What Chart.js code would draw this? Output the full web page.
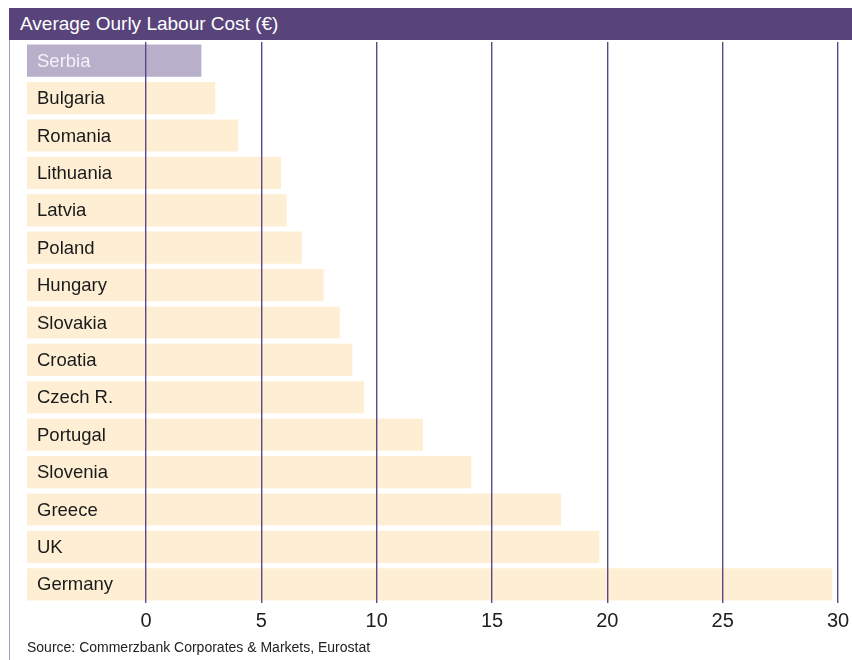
<!DOCTYPE html>
<html>
<head>
<meta charset="utf-8">
<script src="https://cdn.jsdelivr.net/npm/chart.js@4"></script>
<style>
  html, body { margin: 0; padding: 0; background: #fff; }
  body { width: 852px; height: 660px; position: relative; overflow: hidden; font-family: "Liberation Sans", Arial, sans-serif; }
  .header {
    position: absolute; left: 9px; top: 8px; width: 843px; height: 32px;
    background: #58447a; color: #fff; font-size: 19px; line-height: 32px;
    padding-left: 11px; box-sizing: border-box;
  }
  .leftLine { position: absolute; left: 9px; top: 40px; width: 1px; height: 620px; background: #a59cbb; }
  .source { position: absolute; left: 27px; top: 639px; font-size: 14px; color: #222; }
  #chartWrap { position: absolute; left: 0; top: 0; width: 852px; height: 660px; }
</style>
</head>
<body>
<div class="header">Average Ourly Labour Cost (€)</div>
<div class="leftLine"></div>
<div id="chartWrap"><canvas id="chart"></canvas></div>
<div class="source">Source: Commerzbank Corporates &amp; Markets, Eurostat</div>
<script>
const countries = ["Serbia", "Bulgaria", "Romania", "Lithuania", "Latvia", "Poland", "Hungary",
  "Slovakia", "Croatia", "Czech R.", "Portugal", "Slovenia", "Greece", "UK", "Germany"];
const labourCost = [2.4, 3.0, 4.0, 5.85, 6.1, 6.75, 7.7, 8.4, 8.95, 9.45, 12.0, 14.1, 18.0, 19.65, 29.75];
const xTicks = [0, 5, 10, 15, 20, 25, 30];
const axisMin = -5.16;
const axisMax = 30;

const barColors = countries.map((c) => (c === "Serbia" ? "#b8afca" : "#feefd4"));
const textColors = countries.map((c) => (c === "Serbia" ? "#f4f2f8" : "#1a1a1a"));

// country names sit inside the bars, near their left end
const barLabels = {
  id: "barLabels",
  afterDatasetsDraw(chart) {
    const ctx = chart.ctx;
    const meta = chart.getDatasetMeta(0);
    ctx.save();
    ctx.font = '18.5px "Liberation Sans", Arial, sans-serif';
    ctx.textBaseline = "middle";
    ctx.textAlign = "left";
    meta.data.forEach((bar, i) => {
      ctx.fillStyle = textColors[i];
      ctx.fillText(countries[i], chart.chartArea.left + 10, bar.y + 1);
    });
    ctx.restore();
  },
};

new Chart(document.getElementById("chart"), {
  type: "bar",
  data: {
    labels: countries,
    datasets: [{
      data: labourCost,
      base: axisMin,
      backgroundColor: barColors,
      borderWidth: 0,
      categoryPercentage: 0.86,
      barPercentage: 1,
    }],
  },
  options: {
    indexAxis: "y",
    responsive: true,
    maintainAspectRatio: false,
    animation: false,
    layout: { padding: { left: 27, right: 14, top: 42, bottom: 27 } },
    plugins: { legend: { display: false }, tooltip: { enabled: false } },
    scales: {
      x: {
        min: axisMin,
        max: axisMax,
        afterBuildTicks: (scale) => {
          scale.ticks = xTicks.map((v) => ({ value: v }));
        },
        afterFit: (scale) => {
          scale.height = 30;
          scale.paddingLeft = 0;
          scale.paddingRight = 0;
        },
        border: { display: false },
        grid: { color: "#5a4985", lineWidth: 1.4, drawTicks: false, z: 1 },
        ticks: {
          color: "#1e1e1e",
          padding: 6,
          maxRotation: 0,
          font: { size: 20, family: '"Liberation Sans", Arial, sans-serif' },
        },
      },
      y: {
        display: false,
        grid: { display: false },
      },
    },
  },
  plugins: [barLabels],
});
</script>
</body>
</html>
